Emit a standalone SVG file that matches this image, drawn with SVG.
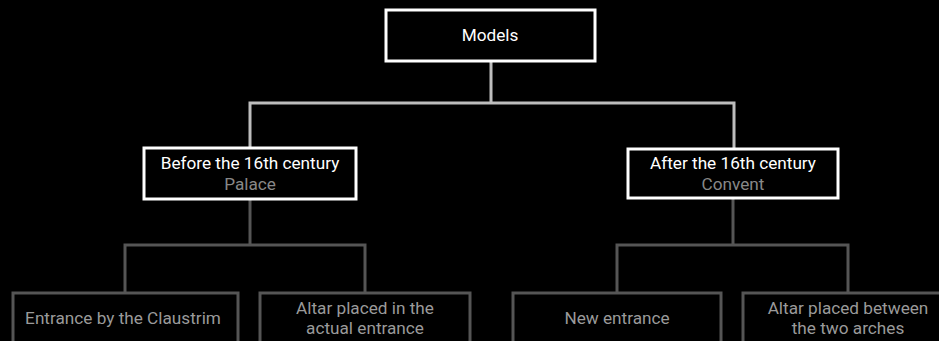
<svg xmlns="http://www.w3.org/2000/svg" width="939" height="341" viewBox="0 0 939 341">
<style>
text{font-family:Roboto,"Liberation Sans",sans-serif;font-size:17.2px;text-anchor:middle}
.top{fill:#000;stroke:#fff;stroke-width:3}
.mid{fill:#000;stroke:#fff;stroke-width:3}
.leaf{fill:#000;stroke:#555;stroke-width:3}
.t1{fill:#fff}
.t2{fill:#888}
.t3{fill:#9a9a9a}
.c1{fill:none;stroke:#bdbdbd;stroke-width:3}
.c2{fill:none;stroke:#555;stroke-width:3}
</style>
<rect width="939" height="341" fill="#000"/>
<g id="connectors">
<path class="c1" d="M491,62 V103 M250,148 V103 H734 V148"/>
<path class="c2" d="M250,200 V245 M125,292 V245 H365 V292 M733,199 V245 M617,292 V245 H848 V292"/>
</g>
<g id="models">
<rect class="top" x="386" y="10" width="209" height="51"/>
<text class="t1" x="490" y="41">Models</text>
</g>
<g id="before">
<rect class="mid" x="144" y="148" width="212" height="51"/>
<text class="t1" x="250" y="169">Before the 16th century</text>
<text class="t2" x="250" y="190">Palace</text>
</g>
<g id="after">
<rect class="mid" x="628" y="149" width="210" height="49"/>
<text class="t1" x="733" y="169">After the 16th century</text>
<text class="t2" x="733" y="190">Convent</text>
</g>
<g id="entrance-claustrim">
<rect class="leaf" x="13" y="293" width="225" height="60"/>
<text class="t3" x="123" y="324">Entrance by the Claustrim</text>
</g>
<g id="altar-entrance">
<rect class="leaf" x="260" y="293" width="210" height="60"/>
<text class="t3" x="365" y="314">Altar placed in the</text>
<text class="t3" x="365" y="334">actual entrance</text>
</g>
<g id="new-entrance">
<rect class="leaf" x="513" y="293" width="208" height="60"/>
<text class="t3" x="617" y="324">New entrance</text>
</g>
<g id="altar-arches">
<rect class="leaf" x="743" y="293" width="210" height="60"/>
<text class="t3" x="848" y="314">Altar placed between</text>
<text class="t3" x="848" y="334">the two arches</text>
</g>
</svg>
